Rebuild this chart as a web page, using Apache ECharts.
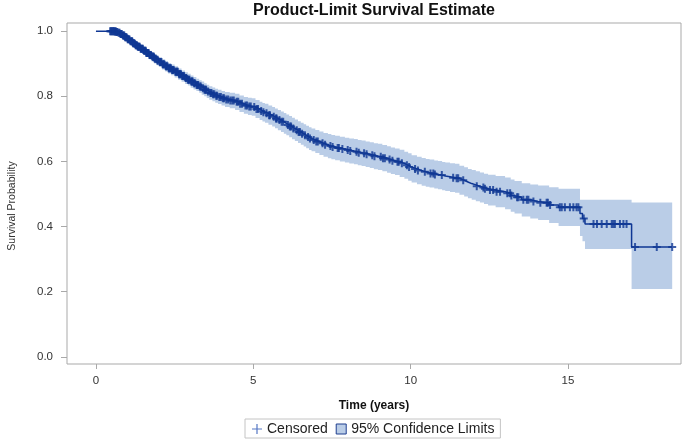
<!DOCTYPE html>
<html><head><meta charset="utf-8">
<script src="https://cdn.jsdelivr.net/npm/echarts@6/dist/echarts.min.js"></script>
<style>html,body{margin:0;padding:0;background:#fff}#c{width:685px;height:440px}</style>
</head><body><div id="c"></div>
<script>
// Kaplan-Meier step estimate (time in years, survival probability)
var kmTime = [0, 0.58, 0.64, 0.7, 0.77, 0.85, 0.92, 1.0, 1.08, 1.16, 1.24, 1.32, 1.41, 1.5, 1.59, 1.68, 1.77, 1.85, 1.93, 2.0, 2.1, 2.2, 2.29, 2.39, 2.5, 2.61, 2.72, 2.83, 2.92, 3.01, 3.1, 3.19, 3.28, 3.36, 3.44, 3.52, 3.6, 3.7, 3.79, 3.88, 3.99, 4.1, 4.25, 4.42, 4.56, 4.7, 4.83, 4.95, 5.07, 5.2, 5.29, 5.37, 5.48, 5.6, 5.69, 5.78, 5.88, 5.97, 6.05, 6.14, 6.23, 6.32, 6.42, 6.51, 6.6, 6.68, 6.77, 6.85, 6.97, 7.1, 7.23, 7.37, 7.48, 7.6, 7.75, 7.91, 8.05, 8.2, 8.32, 8.44, 8.57, 8.7, 8.83, 8.96, 9.1, 9.25, 9.37, 9.5, 9.65, 9.8, 9.92, 10.03, 10.2, 10.35, 10.48, 10.6, 10.75, 10.87, 11.0, 11.1, 11.25, 11.41, 11.55, 11.7, 11.82, 11.94, 12.07, 12.2, 12.33, 12.46, 12.7, 13.0, 13.18, 13.3, 13.53, 13.8, 14.05, 14.4, 14.7, 15.38, 15.46, 15.54, 17.02];
var kmSurv = [1.0, 0.999, 0.997, 0.995, 0.991, 0.987, 0.981, 0.975, 0.969, 0.963, 0.957, 0.952, 0.946, 0.94, 0.933, 0.927, 0.921, 0.915, 0.91, 0.905, 0.898, 0.892, 0.886, 0.881, 0.875, 0.868, 0.862, 0.856, 0.851, 0.845, 0.84, 0.835, 0.83, 0.825, 0.82, 0.815, 0.81, 0.806, 0.802, 0.798, 0.794, 0.79, 0.787, 0.783, 0.777, 0.772, 0.769, 0.767, 0.761, 0.755, 0.751, 0.748, 0.742, 0.737, 0.732, 0.727, 0.722, 0.717, 0.712, 0.707, 0.701, 0.696, 0.69, 0.685, 0.68, 0.675, 0.67, 0.666, 0.661, 0.656, 0.651, 0.647, 0.644, 0.641, 0.638, 0.635, 0.632, 0.63, 0.627, 0.625, 0.622, 0.619, 0.616, 0.614, 0.61, 0.606, 0.602, 0.599, 0.594, 0.588, 0.583, 0.577, 0.572, 0.568, 0.565, 0.563, 0.56, 0.558, 0.555, 0.553, 0.55, 0.548, 0.542, 0.537, 0.532, 0.528, 0.524, 0.52, 0.516, 0.512, 0.507, 0.502, 0.495, 0.49, 0.482, 0.477, 0.473, 0.466, 0.459, 0.44, 0.425, 0.408, 0.337];
// 95% confidence limits at the same times
var ciLower = [1.0, 0.997, 0.994, 0.991, 0.986, 0.981, 0.974, 0.967, 0.96, 0.9535, 0.947, 0.941, 0.9345, 0.928, 0.9205, 0.914, 0.907, 0.901, 0.895, 0.89, 0.8825, 0.876, 0.87, 0.8645, 0.858, 0.851, 0.8445, 0.838, 0.833, 0.8265, 0.821, 0.816, 0.8105, 0.805, 0.8, 0.7945, 0.789, 0.785, 0.7805, 0.776, 0.7715, 0.767, 0.763, 0.758, 0.7515, 0.746, 0.7425, 0.74, 0.7335, 0.727, 0.7225, 0.719, 0.7125, 0.707, 0.7015, 0.696, 0.6905, 0.685, 0.68, 0.6745, 0.668, 0.663, 0.6565, 0.651, 0.646, 0.6405, 0.635, 0.631, 0.6255, 0.62, 0.6145, 0.61, 0.607, 0.6035, 0.6, 0.597, 0.5935, 0.5915, 0.588, 0.586, 0.5825, 0.5795, 0.576, 0.574, 0.5695, 0.5655, 0.561, 0.558, 0.5525, 0.5465, 0.541, 0.535, 0.53, 0.5255, 0.5225, 0.52, 0.517, 0.5145, 0.5115, 0.509, 0.506, 0.5035, 0.4975, 0.492, 0.487, 0.4825, 0.478, 0.474, 0.4695, 0.465, 0.459, 0.453, 0.4455, 0.44, 0.431, 0.425, 0.42, 0.411, 0.402, 0.371, 0.355, 0.331, 0.208];
var ciUpper = [1.0, 1.0, 1.0, 0.999, 0.996, 0.993, 0.988, 0.983, 0.978, 0.9725, 0.967, 0.963, 0.9575, 0.952, 0.9455, 0.94, 0.935, 0.929, 0.925, 0.92, 0.9135, 0.908, 0.902, 0.8975, 0.892, 0.885, 0.8795, 0.874, 0.869, 0.8635, 0.859, 0.854, 0.8495, 0.845, 0.84, 0.8355, 0.831, 0.827, 0.8235, 0.82, 0.8165, 0.813, 0.811, 0.808, 0.8025, 0.798, 0.7955, 0.794, 0.7885, 0.783, 0.7795, 0.777, 0.7715, 0.767, 0.7625, 0.758, 0.7535, 0.749, 0.744, 0.7395, 0.734, 0.729, 0.7235, 0.719, 0.714, 0.7095, 0.705, 0.701, 0.6965, 0.692, 0.6875, 0.684, 0.681, 0.6785, 0.676, 0.673, 0.6705, 0.6685, 0.666, 0.664, 0.6615, 0.6585, 0.656, 0.654, 0.6505, 0.6465, 0.643, 0.64, 0.6355, 0.6295, 0.625, 0.619, 0.614, 0.6105, 0.6075, 0.606, 0.603, 0.6015, 0.5985, 0.597, 0.594, 0.5925, 0.5865, 0.582, 0.577, 0.5735, 0.57, 0.566, 0.5625, 0.559, 0.555, 0.551, 0.5445, 0.54, 0.533, 0.529, 0.526, 0.521, 0.516, 0.482, 0.482, 0.482, 0.474];
var lastTime = 18.31;
var censoredTimes = [0.45, 0.48, 0.5, 0.53, 0.55, 0.57, 0.6, 0.62, 0.63, 0.66, 0.68, 0.72, 0.75, 0.78, 0.8, 0.82, 0.86, 0.88, 0.9, 0.93, 0.95, 0.97, 1.01, 1.03, 1.06, 1.1, 1.13, 1.15, 1.18, 1.2, 1.22, 1.26, 1.28, 1.3, 1.33, 1.35, 1.37, 1.39, 1.42, 1.44, 1.46, 1.49, 1.53, 1.55, 1.58, 1.6, 1.62, 1.65, 1.67, 1.7, 1.72, 1.75, 1.8, 1.82, 1.84, 1.87, 1.9, 1.95, 1.97, 2.03, 2.05, 2.08, 2.12, 2.14, 2.17, 2.22, 2.24, 2.27, 2.31, 2.33, 2.36, 2.38, 2.42, 2.44, 2.47, 2.52, 2.55, 2.58, 2.6, 2.64, 2.67, 2.7, 2.74, 2.76, 2.8, 2.85, 2.87, 2.92, 2.95, 2.97, 3.03, 3.05, 3.07, 3.12, 3.14, 3.2, 3.23, 3.25, 3.3, 3.33, 3.4, 3.45, 3.48, 3.5, 3.56, 3.64, 3.67, 3.72, 3.76, 3.82, 3.85, 3.92, 3.97, 4.03, 4.07, 4.14, 4.2, 4.27, 4.33, 4.38, 4.47, 4.52, 4.58, 4.64, 4.75, 4.8, 4.87, 4.92,
  5.03, 5.1, 5.15, 5.25, 5.32, 5.42, 5.5, 5.53, 5.65, 5.72, 5.74, 5.83, 5.9, 5.95, 6.1, 6.16, 6.2, 6.27, 6.38, 6.44, 6.48, 6.55, 6.64, 6.74, 6.8, 6.92, 7.0, 7.05, 7.2, 7.28, 7.45, 7.52, 7.68, 7.72, 7.83, 8.0, 8.08, 8.28, 8.35, 8.52, 8.6, 8.78, 8.85, 9.05, 9.12, 9.18, 9.33, 9.42, 9.58, 9.62, 9.72, 9.88, 9.95,
  10.14, 10.23, 10.45, 10.63, 10.72, 10.77, 10.99, 11.35, 11.46, 11.51, 11.67, 12.1, 12.31, 12.36, 12.52, 12.62, 12.73, 12.84, 13.07, 13.16, 13.2, 13.38, 13.42, 13.58, 13.69, 13.74, 13.9, 14.12, 14.32, 14.36, 14.43, 14.74, 14.8, 14.9, 15.06, 15.17, 15.27, 15.33, 15.5,
  15.81, 15.92, 16.07, 16.23, 16.39, 16.44, 16.49, 16.65, 16.76, 16.86, 17.13, 17.82, 18.31];
var xTicks = [0, 5, 10, 15];
var yTicks = [0, 0.2, 0.4, 0.6, 0.8, 1.0];

function survAt(t) {
  var s = kmSurv[0];
  for (var i = 0; i < kmTime.length; i++) { if (kmTime[i] <= t) s = kmSurv[i]; }
  return s;
}
var lineData = kmTime.map(function (t, i) { return [t, kmSurv[i]]; });
lineData.push([lastTime, kmSurv[kmSurv.length - 1]]);
var censData = censoredTimes.map(function (t) { return [t, survAt(t)]; });

var BLUE = '#0f3794';
var BAND = '#bacde7';
var FONT = '"Liberation Sans", Arial, sans-serif';
var PLUS = 'path://M3,0h2v3h3v2h-3v3h-2v-3h-3v-2h3z';
var PLUS_THIN = 'path://M4.4,0h1.2v4.4h4.4v1.2h-4.4v4.4h-1.2v-4.4h-4.4v-1.2h4.4z';

var chart = echarts.init(document.getElementById('c'), null, {renderer: 'canvas'});
chart.setOption({
  animation: false,
  backgroundColor: '#fff',
  textStyle: {fontFamily: FONT},
  graphic: [
    {type: 'text', x: 374, y: 11, style: {text: 'Product-Limit Survival Estimate', align: 'center', verticalAlign: 'middle',
      font: 'bold 16px ' + FONT, fill: '#111'}},
    {type: 'text', x: 12, y: 206, rotation: Math.PI / 2, style: {text: 'Survival Probability', align: 'center', verticalAlign: 'middle',
      font: '10.5px ' + FONT, fill: '#333'}}
  ],
  grid: {left: 67, right: 4, top: 23, bottom: 76, outerBoundsMode: 'none', containLabel: false,
    show: true, borderColor: '#a9a9a9', borderWidth: 1, backgroundColor: 'transparent'},
  legend: {
    bottom: 2, left: 245,
    data: [
      {name: 'Censored', icon: PLUS_THIN, itemStyle: {color: '#2b55b5'}},
      {name: '95% Confidence Limits', icon: 'rect', itemStyle: {color: BAND, borderColor: '#1f3f8f', borderWidth: 1}}
    ],
    itemWidth: 10, itemHeight: 10, itemGap: 8,
    borderColor: '#c4c4c4', borderWidth: 1, padding: [3, 6, 2, 7], borderRadius: 0,
    textStyle: {fontSize: 14, color: '#222', fontFamily: FONT}
  },
  xAxis: {
    type: 'value', min: -0.92, max: 18.59,
    name: 'Time (years)', nameLocation: 'middle', nameGap: 36,
    nameTextStyle: {fontWeight: 'bold', fontSize: 12, color: '#111'},
    axisLine: {show: false, onZero: false},
    axisTick: {show: true, length: 5, customValues: xTicks, lineStyle: {color: '#a9a9a9'}},
    axisLabel: {customValues: xTicks, margin: 11, fontSize: 11.5, color: '#333'},
    splitLine: {show: false}
  },
  yAxis: {
    type: 'value', min: -0.022, max: 1.025,
    axisLine: {show: false, onZero: false},
    axisTick: {show: true, length: 6, customValues: yTicks, lineStyle: {color: '#a9a9a9'}},
    axisLabel: {customValues: yTicks, margin: 14, fontSize: 11.5, color: '#333',
      formatter: function (v) { return v.toFixed(1); }},
    splitLine: {show: false}
  },
  series: [
    {
      name: '95% Confidence Limits', type: 'custom', z: 1,
      itemStyle: {color: BAND},
      data: [[kmTime[1], ciLower[1]]],
      renderItem: function (params, api) {
        var upper = [], lower = [];
        for (var i = 1; i < kmTime.length; i++) {
          var t0 = kmTime[i];
          var t1 = (i + 1 < kmTime.length) ? kmTime[i + 1] : lastTime;
          upper.push(api.coord([t0, ciUpper[i]]));
          upper.push(api.coord([t1, ciUpper[i]]));
          lower.push(api.coord([t0, ciLower[i]]));
          lower.push(api.coord([t1, ciLower[i]]));
        }
        return {type: 'polygon', shape: {points: upper.concat(lower.reverse())}, style: {fill: BAND}};
      }
    },
    {
      name: 'Survival', type: 'line', step: 'end', z: 2,
      data: lineData, showSymbol: false, symbol: 'none',
      lineStyle: {color: BLUE, width: 1.5}, itemStyle: {color: BLUE}
    },
    {
      name: 'Censored', type: 'scatter', z: 3,
      data: censData, symbol: PLUS, symbolSize: [8, 8],
      itemStyle: {color: BLUE}
    }
  ]
});
</script>
</body></html>
